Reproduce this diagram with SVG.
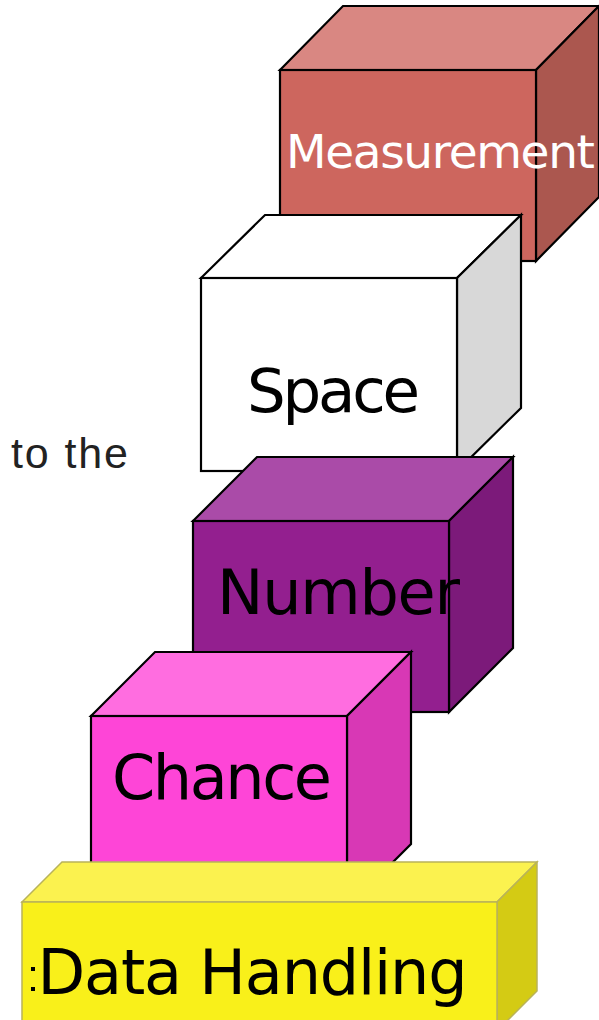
<svg xmlns="http://www.w3.org/2000/svg" width="599" height="1020" viewBox="0 0 599 1020">
<style>
.e{stroke:#000;stroke-width:2.2;stroke-linejoin:miter}
.y{stroke:#b9b359;stroke-width:1.5}
.t{font-family:"DejaVu Sans","Liberation Sans",sans-serif;fill:#000}
</style>
<rect width="599" height="1020" fill="#fff"/>
<g id="measurement">
<polygon class="e" points="280,70 343,6 599,6 536,70" fill="#d98782"/>
<polygon class="e" points="536,70 599,6 599,197 536,261" fill="#ab574f"/>
<rect class="e" x="280" y="70" width="256" height="191" fill="#cd665e"/>
<text class="t" x="286" y="168" font-size="47" textLength="309" style="fill:#fff">Measurement</text>
</g>
<g id="space">
<polygon class="e" points="201,278 265,215 521,215 457,278" fill="#fff"/>
<polygon class="e" points="457,278 521,215 521,408 457,471" fill="#d8d8d8"/>
<rect class="e" x="201" y="278" width="256" height="193" fill="#fff"/>
<text class="t" x="247" y="412" font-size="61" textLength="173">Space</text>
</g>
<g id="number">
<polygon class="e" points="193,521 257,457 513,457 449,521" fill="#aa4ba8"/>
<polygon class="e" points="449,521 513,457 513,648 449,712" fill="#7c1a7a"/>
<rect class="e" x="193" y="521" width="256" height="191" fill="#931f8f"/>
<text class="t" x="217" y="614" font-size="62" textLength="243">Number</text>
</g>
<g id="chance">
<polygon class="e" points="91,716 155,652 411,652 347,716" fill="#ff6de0"/>
<polygon class="e" points="347,716 411,652 411,844 347,908" fill="#d838b5"/>
<rect class="e" x="91" y="716" width="256" height="192" fill="#fe45d7"/>
<text class="t" x="112" y="799" font-size="62" textLength="220">Chance</text>
</g>
<g id="data-handling">
<polygon class="y" points="22,902 62,862 537,862 497,902" fill="#fbf24f"/>
<polygon class="y" points="497,902 537,862 537,991 497,1031" fill="#d4cb14"/>
<rect class="y" x="22" y="902" width="475" height="130" fill="#f9f01a"/>
<rect x="31" y="967" width="4" height="4" fill="#000"/>
<rect x="31" y="987" width="4" height="4" fill="#000"/>
<text class="t" x="37.5" y="994" font-size="62" textLength="430">Data Handling</text>
</g>
<g id="label">
<text x="11" y="468" font-family="'Liberation Sans',sans-serif" font-size="43" textLength="117" fill="#222">to the</text>
</g>
<g id="connectors"></g>
</svg>
